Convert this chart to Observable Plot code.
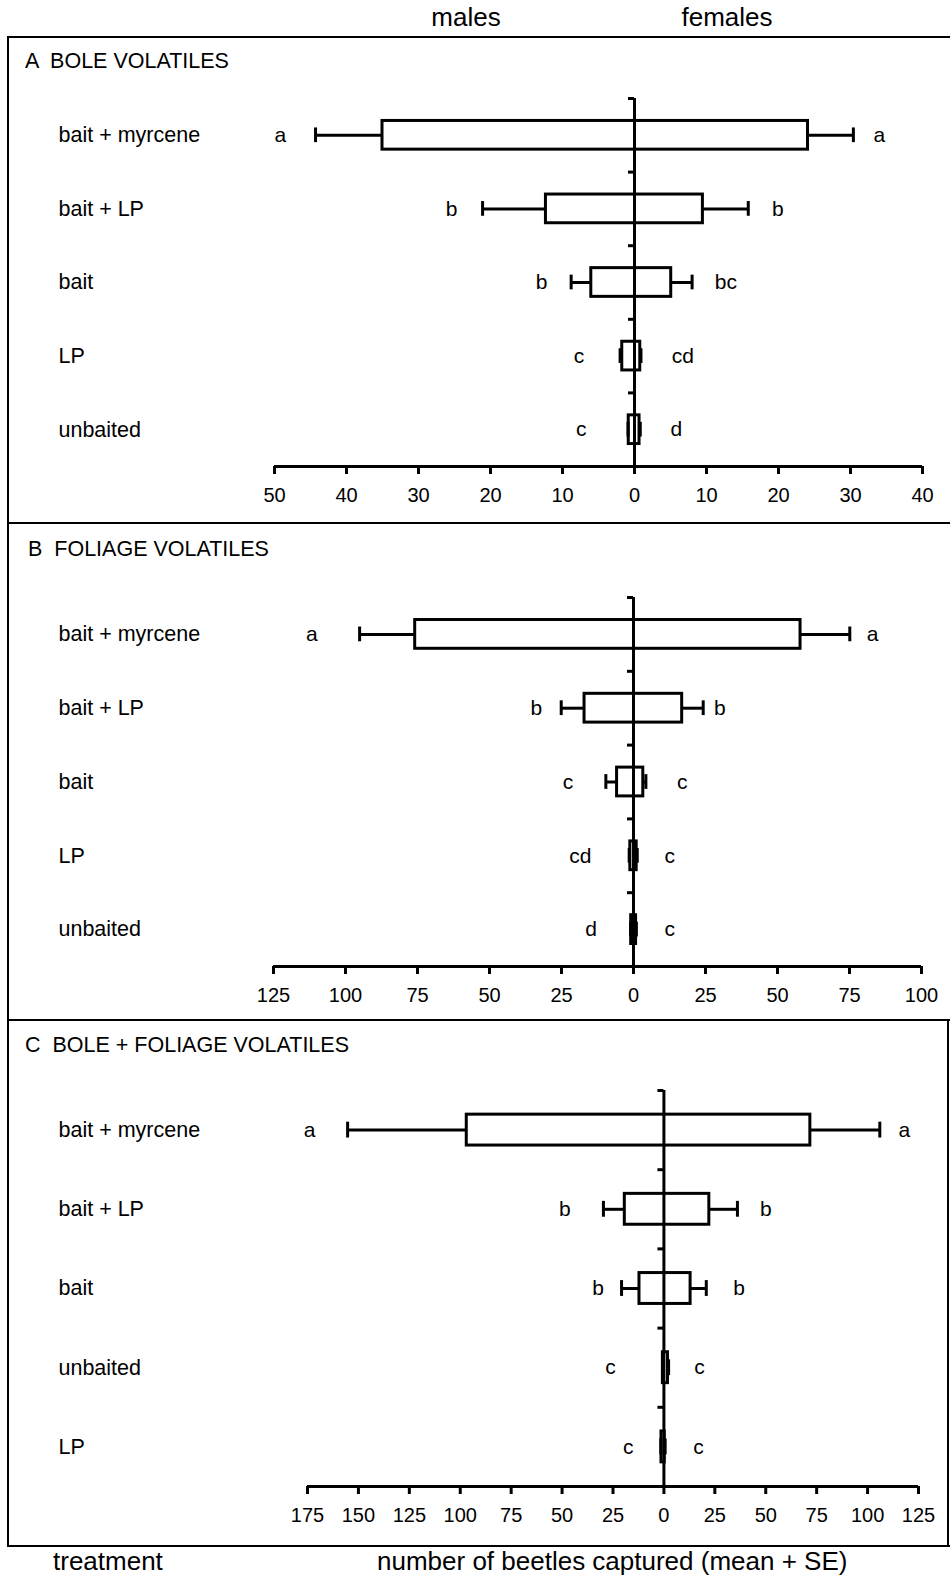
<!DOCTYPE html>
<html><head><meta charset="utf-8">
<script src="https://cdn.jsdelivr.net/npm/d3@7"></script>
<script src="https://cdn.jsdelivr.net/npm/@observablehq/plot@0.6"></script>
<style>
body{margin:0;background:#fff;}
#fig{position:relative;width:950px;height:1578px;font-family:"Liberation Sans",Arial,Helvetica,sans-serif;color:#000;background:#fff;overflow:hidden;}
.t{position:absolute;white-space:pre;line-height:1;}
.panel{position:absolute;left:0;}
.ln{position:absolute;background:#000;}
</style></head><body><div id="fig"></div>
<script>
// ---------- A: bole volatiles ----------
const boleCategories = ["bait + myrcene", "bait + LP", "bait", "LP", "unbaited"];
const boleMaleMean    = [35.0, 12.3, 6.0, 1.7, 0.8];
const boleMaleUpper   = [44.3, 21.1, 8.8, 2.0, 0.9];   // mean + SE
const boleFemaleMean  = [24.1, 9.5, 5.1, 0.8, 0.7];
const boleFemaleUpper = [30.4, 15.8, 8.0, 0.9, 0.8];
const boleMaleLetters   = ["a", "b", "b", "c", "c"];
const boleMaleLetterAt  = [49.2, 25.4, 12.9, 7.7, 7.4];
const boleFemaleLetters = ["a", "b", "bc", "cd", "d"];
const boleFemaleLetterAt= [34.0, 19.9, 12.7, 6.7, 5.8];
const boleTicks = [-50, -40, -30, -20, -10, 0, 10, 20, 30, 40];

// ---------- B: foliage volatiles ----------
const foliageCategories = ["bait + myrcene", "bait + LP", "bait", "LP", "unbaited"];
const foliageMaleMean    = [75.8, 17.0, 5.7, 1.1, 0.8];
const foliageMaleUpper   = [95.1, 25.1, 9.6, 1.5, 1.0];
const foliageFemaleMean  = [58.0, 16.9, 3.4, 1.1, 0.9];
const foliageFemaleUpper = [75.1, 24.2, 4.3, 1.3, 1.0];
const foliageMaleLetters   = ["a", "b", "c", "cd", "d"];
const foliageMaleLetterAt  = [111.7, 33.7, 22.7, 18.5, 14.7];
const foliageFemaleLetters = ["a", "b", "c", "c", "c"];
const foliageFemaleLetterAt= [83.0, 30.0, 16.9, 12.6, 12.6];
const foliageTicks = [-125, -100, -75, -50, -25, 0, 25, 50, 75, 100];

// ---------- C: bole + foliage volatiles ----------
const bothCategories = ["bait + myrcene", "bait + LP", "bait", "unbaited", "LP"];
const bothMaleMean    = [96.8, 19.2, 12.0, 0.5, 1.2];
const bothMaleUpper   = [155.3, 29.7, 20.8, 0.7, 1.5];
const bothFemaleMean  = [71.9, 22.3, 13.1, 2.0, 0.4];
const bothFemaleUpper = [106.0, 36.1, 20.8, 2.3, 0.6];
const bothMaleLetters   = ["a", "b", "b", "c", "c"];
const bothMaleLetterAt  = [174.0, 48.7, 32.3, 26.2, 17.5];
const bothFemaleLetters = ["a", "b", "b", "c", "c"];
const bothFemaleLetterAt= [118.0, 50.0, 36.9, 17.5, 17.0];
const bothTicks = [-175, -150, -125, -100, -75, -50, -25, 0, 25, 50, 75, 100, 125];

const FONT = "'Liberation Sans', Arial, Helvetica, sans-serif";

function panel(p) {
  const n = p.categories.length;
  const rows = p.categories.map((c, i) => ({
    c, yc: i + 0.5,
    mm: -p.maleMean[i], mu: -p.maleUpper[i],
    fm: p.femaleMean[i], fu: p.femaleUpper[i]
  }));
  const letters = p.categories.flatMap((c, i) => [
    {x: -p.maleLetterAt[i], y: i + 0.5, t: p.maleLetters[i]},
    {x: p.femaleLetterAt[i], y: i + 0.5, t: p.femaleLetters[i]}
  ]);
  const x0 = p.ticks[0], x1 = p.ticks[p.ticks.length - 1];
  const tickUnits = 6 * (x1 - x0) / (950 - p.ml - p.mr);
  const half = 0.195, cap = 0.1, sw = 3;
  return Plot.plot({
    width: 950, height: p.height,
    marginLeft: p.ml, marginRight: p.mr, marginTop: p.mt, marginBottom: p.mb,
    x: {domain: [x0, x1], axis: null, label: null},
    y: {domain: [0, n], reverse: true, axis: null, label: null},
    style: {fontFamily: FONT, background: "transparent", color: "black"},
    marks: [
      Plot.rect(rows, {x1: "mm", x2: "fm", y1: d => d.yc - half, y2: d => d.yc + half,
        fill: "white", stroke: "black", strokeWidth: sw}),
      Plot.ruleY(rows, {y: "yc", x1: "mm", x2: "mu", stroke: "black", strokeWidth: sw}),
      Plot.ruleY(rows, {y: "yc", x1: "fm", x2: "fu", stroke: "black", strokeWidth: sw}),
      Plot.ruleX(rows, {x: "mu", y1: d => d.yc - cap, y2: d => d.yc + cap, stroke: "black", strokeWidth: sw}),
      Plot.ruleX(rows, {x: "fu", y1: d => d.yc - cap, y2: d => d.yc + cap, stroke: "black", strokeWidth: sw}),
      Plot.ruleX([0], {x: d => d, y1: () => 0, y2: () => n, stroke: "black", strokeWidth: sw}),
      Plot.ruleY(d3.range(n), {y: d => d, x1: () => -tickUnits, x2: () => 0, stroke: "black", strokeWidth: sw}),
      Plot.ruleY([n], {y: d => d, x1: () => x0, x2: () => x1, stroke: "black", strokeWidth: sw}),
      Plot.axisX({ticks: p.ticks, tickFormat: d => String(Math.abs(d)), tickSize: 8, tickPadding: 13,
        fontSize: 20, strokeWidth: sw, label: null}),
      Plot.text(rows, {y: "yc", text: "c", frameAnchor: "left", textAnchor: "start",
        dx: 58 - p.ml, fontSize: 21.5, fill: "black"}),
      Plot.text(letters, {x: "x", y: "y", text: "t", fontSize: 21, fill: "black"})
    ]
  });
}

const fig = document.getElementById("fig");
function addText(txt, style) {
  const d = document.createElement("div");
  d.className = "t"; d.textContent = txt;
  Object.assign(d.style, style);
  fig.appendChild(d);
}
function addPanel(svg, top) {
  const w = document.createElement("div");
  w.className = "panel"; w.style.top = top + "px";
  w.appendChild(svg); fig.appendChild(w);
}
function addLine(l, t, w, h) {
  const d = document.createElement("div");
  d.className = "ln";
  Object.assign(d.style, {left: l + "px", top: t + "px", width: w + "px", height: h + "px"});
  fig.appendChild(d);
}

addPanel(panel({categories: boleCategories, maleMean: boleMaleMean, maleUpper: boleMaleUpper,
  femaleMean: boleFemaleMean, femaleUpper: boleFemaleUpper,
  maleLetters: boleMaleLetters, maleLetterAt: boleMaleLetterAt,
  femaleLetters: boleFemaleLetters, femaleLetterAt: boleFemaleLetterAt,
  ticks: boleTicks, height: 486, ml: 274, mr: 28, mt: 61, mb: 57}), 37);

addPanel(panel({categories: foliageCategories, maleMean: foliageMaleMean, maleUpper: foliageMaleUpper,
  femaleMean: foliageFemaleMean, femaleUpper: foliageFemaleUpper,
  maleLetters: foliageMaleLetters, maleLetterAt: foliageMaleLetterAt,
  femaleLetters: foliageFemaleLetters, femaleLetterAt: foliageFemaleLetterAt,
  ticks: foliageTicks, height: 497, ml: 273, mr: 29, mt: 74, mb: 54}), 523);

addPanel(panel({categories: bothCategories, maleMean: bothMaleMean, maleUpper: bothMaleUpper,
  femaleMean: bothFemaleMean, femaleUpper: bothFemaleUpper,
  maleLetters: bothMaleLetters, maleLetterAt: bothMaleLetterAt,
  femaleLetters: bothFemaleLetters, femaleLetterAt: bothFemaleLetterAt,
  ticks: bothTicks, height: 526, ml: 307, mr: 32, mt: 70, mb: 60}), 1020);

// frame
addLine(7, 36, 943, 2);      // top
addLine(7, 36, 2, 1511);     // left
addLine(7, 522, 943, 2);     // A/B divider
addLine(7, 1019, 943, 2);    // B/C divider
addLine(7, 1545, 943, 2);    // bottom
addLine(947, 1019, 2, 528);  // right (panel C)

// texts
addText("males",   {left: "466px", top: "4px", fontSize: "26px", transform: "translateX(-50%)"});
addText("females", {left: "727px", top: "4px", fontSize: "26px", transform: "translateX(-50%)"});
addText("A  BOLE VOLATILES",            {left: "25px", top: "51px",   fontSize: "21.5px"});
addText("B  FOLIAGE VOLATILES",         {left: "28px", top: "539px",  fontSize: "21.5px"});
addText("C  BOLE + FOLIAGE VOLATILES",  {left: "25px", top: "1035px", fontSize: "21.5px"});
addText("treatment", {left: "53px", top: "1548px", fontSize: "26px"});
addText("number of beetles captured (mean + SE)", {left: "377px", top: "1548px", fontSize: "26px"});
</script>
</body></html>
